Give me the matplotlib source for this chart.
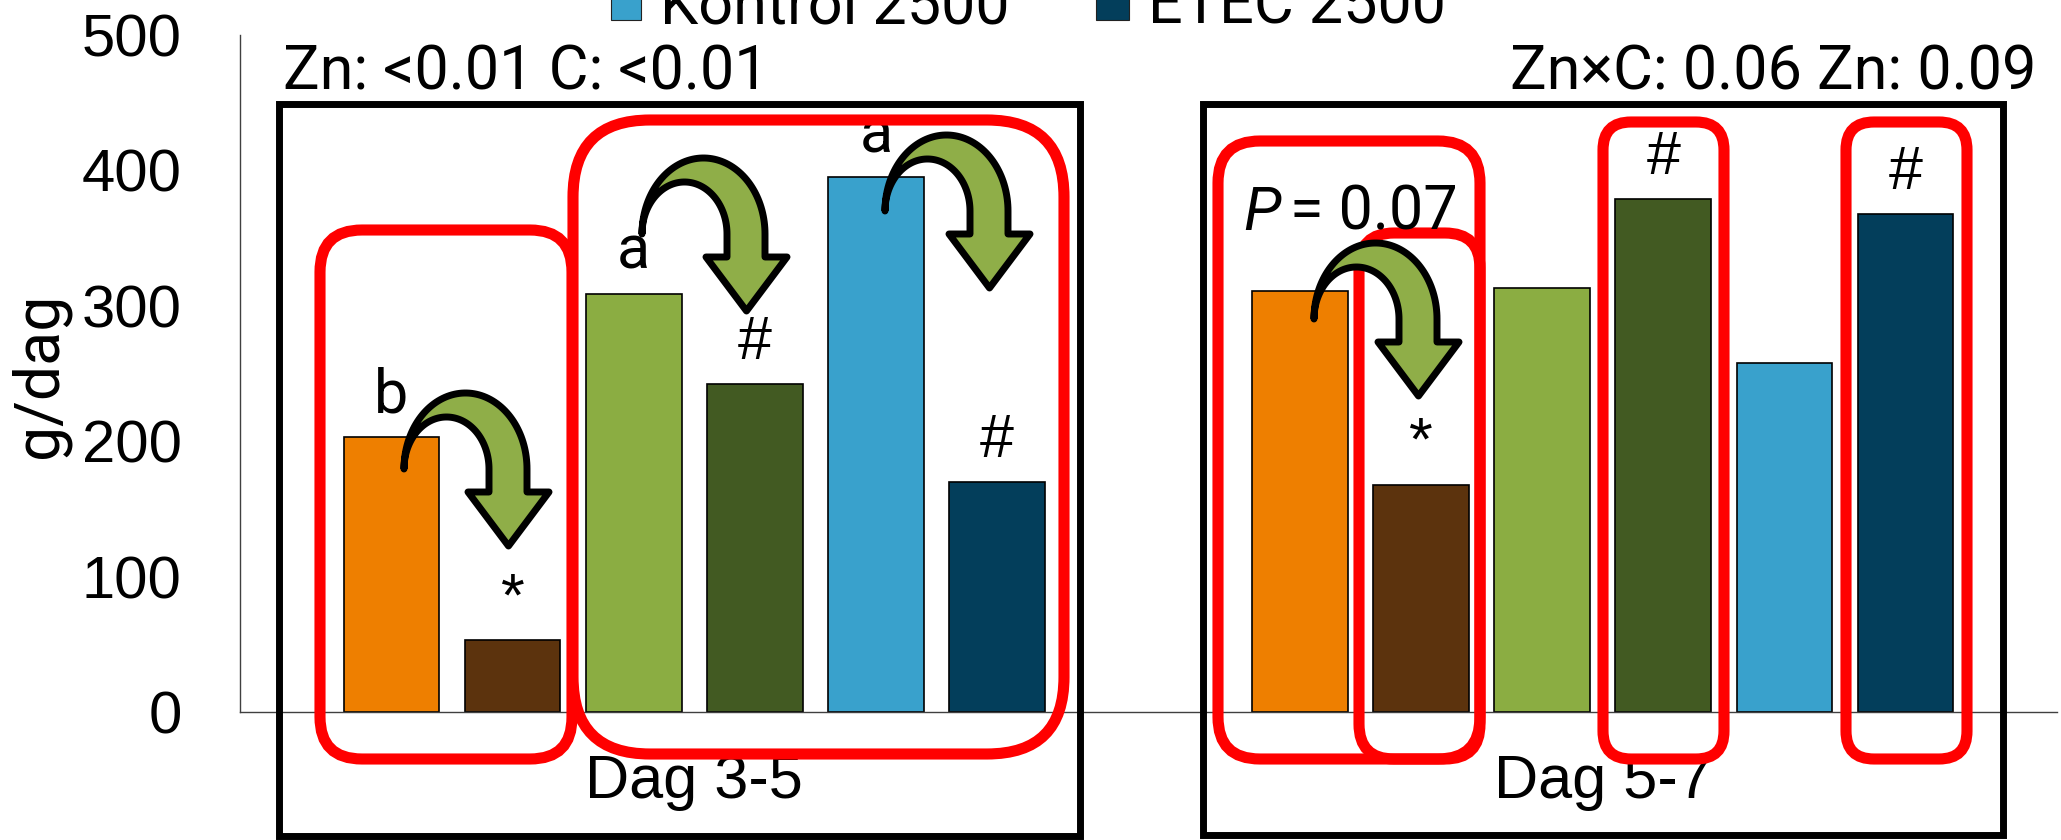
import matplotlib
matplotlib.use("Agg")
import matplotlib.pyplot as plt
import numpy as np
from matplotlib.patches import FancyBboxPatch, Rectangle, PathPatch
from matplotlib.path import Path

# ---- data -------------------------------------------------------------
periods = ["Dag 3-5", "Dag 5-7"]
dag35 = [203, 53, 309, 242, 395, 170]
dag57 = [311, 168, 313, 379, 258, 368]
marks35 = ["b", "*", "a", "#", "a", "#"]
marks57 = ["", "*", "", "#", "", "#"]
bar_colors = ["#EE7F00", "#5C330D", "#8BAD42", "#425A22", "#39A1CC", "#033E5B"]
legend_labels = ["Kontrol 2500", "ETEC 2500"]
legend_colors = ["#39A1CC", "#033E5B"]
yticks = [0, 100, 200, 300, 400, 500]
stats_left = "Zn: <0.01 C: <0.01"
stats_right = "Zn\u00d7C: 0.06 Zn: 0.09"
p_text = "= 0.07"

GOTHIC = "Roboto"
ARIAL = "Liberation Sans"

W, H = 2061, 840
fig = plt.figure(figsize=(W / 100, H / 100), dpi=100)
fig.patch.set_facecolor("white")

ax = fig.add_axes([240 / W, 128 / H, 1817 / W, 677 / H])
pos35 = np.arange(6)
pos57 = np.arange(6) + 7.5
bw = 0.79
ax.bar(pos35, dag35, width=bw, color=bar_colors, edgecolor="black", linewidth=1.2, zorder=2)
ax.bar(pos57, dag57, width=bw, color=bar_colors, edgecolor="black", linewidth=1.2, zorder=2)

ax.set_xlim(-1.25, 13.75)
ax.set_ylim(0, 500)
ax.set_yticks(yticks)
ax.set_yticklabels([str(t) for t in yticks], family=ARIAL, fontsize=43)
ax.set_xticks([2.5, 10])
ax.set_xticklabels(periods, family=ARIAL, fontsize=44)
ax.tick_params(axis="y", length=0, pad=42)
ax.tick_params(axis="x", length=0, pad=30)
for s in ["top", "right"]:
    ax.spines[s].set_visible(False)
for s in ["left", "bottom"]:
    ax.spines[s].set_color("#404040")
    ax.spines[s].set_linewidth(1.0)

for xs, vals, marks in [(pos35, dag35, marks35), (pos57, dag57, marks57)]:
    for x, v, m in zip(xs, vals, marks):
        if not m:
            continue
        fam = GOTHIC if m.isalpha() else ARIAL
        ax.annotate(m, xy=(x, v), xytext=(0, 25), textcoords="offset pixels",
                    ha="center", va="baseline", fontsize=44, family=fam, zorder=3)

fig.text(40 / W, 1 - 375 / H, "g/dag", rotation=90, ha="center", va="center",
         family=GOTHIC, fontsize=45)

# ---- overlay in pixel coordinates for frames, arrows and notes ----------
ov = fig.add_axes([0, 0, 1, 1], zorder=5)
ov.set_xlim(0, W)
ov.set_ylim(H, 0)
ov.axis("off")
ov.patch.set_alpha(0)

# legend entries (the upper part runs past the top edge)
ov.add_patch(Rectangle((611, -10), 30, 30, facecolor=legend_colors[0], edgecolor="#222222", lw=0.8))
ov.add_patch(Rectangle((1096, -13), 33, 33, facecolor=legend_colors[1], edgecolor="#222222", lw=0.8))
ov.text(660, 23, legend_labels[0], ha="left", va="baseline", family=GOTHIC, fontsize=44)
ov.text(1148, 23, legend_labels[1], ha="left", va="baseline", family=GOTHIC, fontsize=44)

# statistics
ov.text(283, 90, stats_left, ha="left", va="baseline", family=GOTHIC, fontsize=44)
ov.text(2036, 90, stats_right, ha="right", va="baseline", family=GOTHIC, fontsize=44)
ov.text(1243, 230, "P", ha="left", va="baseline", family=GOTHIC, fontsize=44, style="italic")
ov.text(1290, 230, p_text, ha="left", va="baseline", family=GOTHIC, fontsize=44)

# black frames around each period
for x0, y0, x1, y1 in [(279, 104, 1080, 836), (1203, 104, 2003, 835)]:
    ov.add_patch(Rectangle((x0, y0), x1 - x0, y1 - y0, fill=False, edgecolor="black",
                           lw=5, joinstyle="miter"))

# red rounded highlight boxes
red_boxes = [
    (320, 230, 572, 759, 42),
    (573, 120, 1064, 754, 77),
    (1218, 141, 1480, 759, 42),
    (1359, 233, 1480, 759, 35),
    (1603, 122, 1724, 759, 28),
    (1846, 122, 1967, 759, 28),
]
for x0, y0, x1, y1, r in red_boxes:
    ov.add_patch(FancyBboxPatch((x0, y0), x1 - x0, y1 - y0,
                                boxstyle=f"round,pad=0,rounding_size={r}",
                                fill=False, edgecolor="#FF0000", lw=8))


def curved_arrow(x0, y0):
    t_out = np.linspace(np.pi, 0, 80)
    outer = np.column_stack([61.5 + 61.5 * np.cos(t_out), -76 * np.sin(t_out)])
    head = np.array([[123, 23], [145, 23], [104.5, 77], [64, 23], [85, 23]])
    t_in = np.linspace(0, np.pi, 80)
    inner = np.column_stack([42.5 + 42.5 * np.cos(t_in), -52 * np.sin(t_in)])
    pts = np.vstack([outer, head, inner])
    pts[:, 0] += x0
    pts[:, 1] += y0
    codes = [Path.MOVETO] + [Path.LINETO] * (len(pts) - 2) + [Path.CLOSEPOLY]
    return PathPatch(Path(pts, codes), facecolor="#8FAE48", edgecolor="black",
                     lw=5, joinstyle="round")


for tx, ty in [(404, 469), (642, 234), (885, 211), (1314, 319)]:
    ov.add_patch(curved_arrow(tx, ty))

fig.savefig("out.png", dpi=100, facecolor="white")
